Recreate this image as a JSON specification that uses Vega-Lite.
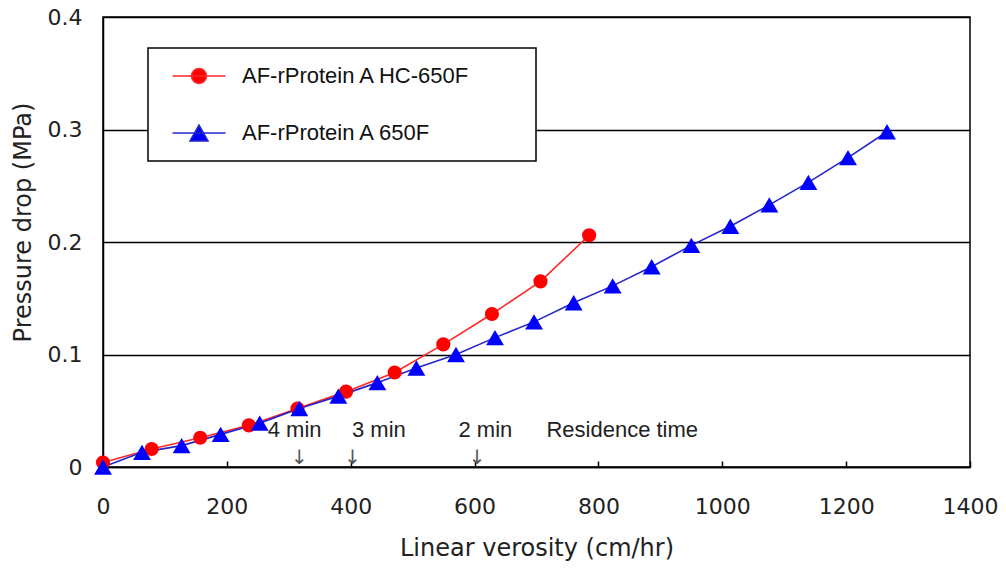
{
  "$schema": "https://vega.github.io/schema/vega-lite/v6.json",
  "width": 867,
  "height": 450,
  "autosize": {"type": "none"},
  "padding": {"left": 103, "top": 17, "right": 36, "bottom": 101},
  "config": {
    "view": {"stroke": "#000", "strokeWidth": 1.5},
    "font": "DejaVu Sans",
    "axis": {"domainColor": "#000", "domainWidth": 1.5, "labelFont": "DejaVu Sans", "labelFontSize": 22, "labelColor": "#222", "titleFont": "DejaVu Sans", "titleFontSize": 24, "titleFontWeight": "normal", "titleColor": "#222"}
  },
  "resolve": {"scale": {"color": "independent", "shape": "independent", "size": "independent"}},
  "datasets": {
    "series": [
      {"series": "AF-rProtein A HC-650F", "v": 0, "p": 0.004},
      {"series": "AF-rProtein A HC-650F", "v": 78.5, "p": 0.016},
      {"series": "AF-rProtein A HC-650F", "v": 157, "p": 0.026},
      {"series": "AF-rProtein A HC-650F", "v": 235.5, "p": 0.037},
      {"series": "AF-rProtein A HC-650F", "v": 314, "p": 0.052},
      {"series": "AF-rProtein A HC-650F", "v": 392.5, "p": 0.067},
      {"series": "AF-rProtein A HC-650F", "v": 471, "p": 0.084},
      {"series": "AF-rProtein A HC-650F", "v": 549.5, "p": 0.109},
      {"series": "AF-rProtein A HC-650F", "v": 628, "p": 0.136},
      {"series": "AF-rProtein A HC-650F", "v": 706.5, "p": 0.165},
      {"series": "AF-rProtein A HC-650F", "v": 785, "p": 0.206},
      {"series": "AF-rProtein A 650F", "v": 0, "p": 0},
      {"series": "AF-rProtein A 650F", "v": 63, "p": 0.013},
      {"series": "AF-rProtein A 650F", "v": 127, "p": 0.019},
      {"series": "AF-rProtein A 650F", "v": 190, "p": 0.029},
      {"series": "AF-rProtein A 650F", "v": 253, "p": 0.039},
      {"series": "AF-rProtein A 650F", "v": 317, "p": 0.052},
      {"series": "AF-rProtein A 650F", "v": 380, "p": 0.063},
      {"series": "AF-rProtein A 650F", "v": 443, "p": 0.075},
      {"series": "AF-rProtein A 650F", "v": 506, "p": 0.088},
      {"series": "AF-rProtein A 650F", "v": 570, "p": 0.1},
      {"series": "AF-rProtein A 650F", "v": 633, "p": 0.115},
      {"series": "AF-rProtein A 650F", "v": 696, "p": 0.129},
      {"series": "AF-rProtein A 650F", "v": 760, "p": 0.146},
      {"series": "AF-rProtein A 650F", "v": 823, "p": 0.161},
      {"series": "AF-rProtein A 650F", "v": 886, "p": 0.178},
      {"series": "AF-rProtein A 650F", "v": 950, "p": 0.197},
      {"series": "AF-rProtein A 650F", "v": 1013, "p": 0.214},
      {"series": "AF-rProtein A 650F", "v": 1076, "p": 0.233},
      {"series": "AF-rProtein A 650F", "v": 1139, "p": 0.253},
      {"series": "AF-rProtein A 650F", "v": 1203, "p": 0.275},
      {"series": "AF-rProtein A 650F", "v": 1266, "p": 0.298}
    ],
    "notes": [
      {"label": "4 min", "v": 266, "p": 0.033},
      {"label": "3 min", "v": 402, "p": 0.033},
      {"label": "2 min", "v": 574, "p": 0.033},
      {"label": "Residence time", "v": 716, "p": 0.033}
    ],
    "arrows": [
      {"v": 317, "p": 0.008},
      {"v": 403, "p": 0.008},
      {"v": 604, "p": 0.008}
    ]
  },
  "encoding": {
    "x": {"field": "v", "type": "quantitative", "scale": {"domain": [0, 1400], "nice": false}, "title": "Linear verosity (cm/hr)",
      "axis": {"values": [0, 200, 400, 600, 800, 1000, 1200, 1400], "format": "d", "grid": false, "tickColor": "#000", "tickWidth": 1.5, "tickSize": -6, "labelPadding": 35, "titlePadding": 19, "labelFlush": false}},
    "y": {"field": "p", "type": "quantitative", "scale": {"domain": [0, 0.4], "nice": false}, "title": "Pressure drop (MPa)",
      "axis": {"values": [0, 0.1, 0.2, 0.3, 0.4], "grid": true, "gridColor": "#000", "gridWidth": 1.5, "gridOpacity": 1, "ticks": false, "labelPadding": 21, "titlePadding": 12, "titleY": 205, "labelExpr": "datum.value == 0 ? '0' : format(datum.value, '.1f')"}}
  },
  "layer": [
    {
      "data": {"name": "series"},
      "mark": {"type": "line", "strokeWidth": 1.6},
      "encoding": {
        "color": {"field": "series", "type": "nominal", "sort": ["AF-rProtein A HC-650F", "AF-rProtein A 650F"],
          "scale": {"domain": ["AF-rProtein A HC-650F", "AF-rProtein A 650F"], "range": ["#ff2828", "#2424cc"]},
          "legend": {
            "title": null, "orient": "none", "legendX": 45, "legendY": 31,
            "strokeColor": "#000", "padding": 17, "fillColor": "#fff",
            "labelFont": "Liberation Sans", "labelFontSize": 22, "labelColor": "#111", "labelLimit": 600,
            "symbolSize": 400, "labelOffset": 32, "rowPadding": 35, "symbolOffset": 23,
            "labelExpr": "datum.label + '\u2800\u2800\u2800'",
            "encode": {
              "legend": {"update": {"strokeWidth": {"value": 1.5}}},
              "symbols": {"update": {
                "shape": {"signal": "datum.value == 'AF-rProtein A 650F' ? 'M-2.65,0H2.65M0,-0.8L0.9,0.8L-0.9,0.8Z' : 'M-2.65,0H2.65M-0.75,0A0.75,0.75 0 1,0 0.75,0A0.75,0.75 0 1,0 -0.75,0Z'"},
                "fill": {"signal": "datum.value == 'AF-rProtein A 650F' ? '#0000ff' : '#ff0000'"},
                "stroke": {"signal": "datum.value == 'AF-rProtein A 650F' ? '#0000c0' : '#ff3030'"}
              }}
            }
          }}
      }
    },
    {
      "data": {"name": "series"},
      "mark": {"type": "point", "filled": true, "opacity": 1},
      "encoding": {
        "color": {"field": "series", "type": "nominal", "scale": {"domain": ["AF-rProtein A HC-650F", "AF-rProtein A 650F"], "range": ["#ff0000", "#0000ff"]}, "legend": null},
        "shape": {"field": "series", "type": "nominal", "scale": {"domain": ["AF-rProtein A HC-650F", "AF-rProtein A 650F"], "range": ["circle", "triangle-up"]}, "legend": null},
        "size": {"field": "series", "type": "nominal", "scale": {"domain": ["AF-rProtein A HC-650F", "AF-rProtein A 650F"], "range": [200, 320]}, "legend": null}
      }
    },
    {
      "data": {"name": "notes"},
      "mark": {"type": "text", "align": "left", "baseline": "middle", "font": "Liberation Sans", "fontSize": 22, "color": "#222"},
      "encoding": {"text": {"field": "label"}}
    },
    {
      "data": {"name": "arrows"},
      "mark": {"type": "text", "align": "center", "baseline": "middle", "font": "DejaVu Sans", "fontSize": 20, "color": "#555", "text": "↓"},
      "encoding": {}
    }
  ]
}
